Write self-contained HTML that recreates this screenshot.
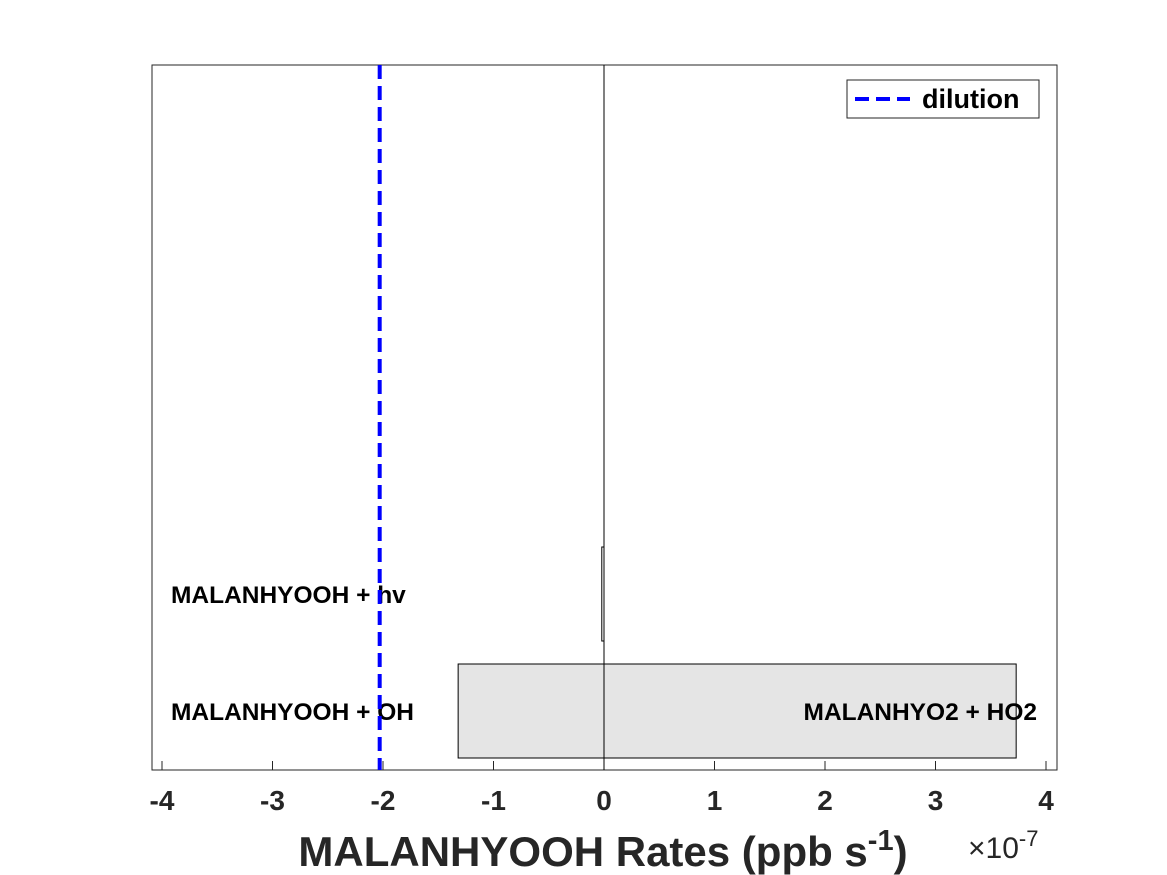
<!DOCTYPE html>
<html><head><meta charset="utf-8"><style>
body{margin:0;background:#fff;}
svg{display:block;font-family:"Liberation Sans",Arial,sans-serif;}
</style></head><body>
<svg width="1167" height="875">
<rect x="0" y="0" width="1167" height="875" fill="#fff"/>
<rect x="152" y="65" width="905" height="705" fill="#fff" stroke="#262626" stroke-width="1"/>
<g id="bars"></g>
<g id="ticks"></g>
<line id="zero" stroke="#000" stroke-width="1"/>
<line id="dil" stroke="#0000ff" stroke-width="4" stroke-dasharray="14,7"/>
<g>
<rect x="847" y="80" width="192" height="38" fill="#fff" stroke="#262626" stroke-width="1"/>
<line x1="855" y1="99" x2="910" y2="99" stroke="#0000ff" stroke-width="4" stroke-dasharray="14,7"/>
<text x="922" y="108" font-size="27" font-weight="bold" fill="#000">dilution</text>
</g>
<text x="603" y="866" text-anchor="middle" font-size="42" font-weight="bold" fill="#262626">MALANHYOOH Rates (ppb s<tspan dy="-16" font-size="29">-1</tspan><tspan dy="16">)</tspan></text>
<text x="968" y="858" font-size="30" fill="#262626">×10<tspan dy="-12" font-size="22">-7</tspan></text>
<script>
const categories=["MALANHYOOH + OH","MALANHYOOH + hv"];
const negValues=[-1.32,-0.02];
const posValues=[3.73,0];
const posLabels=["MALANHYO2 + HO2",""];
const xTicks=[-4,-3,-2,-1,0,1,2,3,4];
const dilution=-2.03;
const NS="http://www.w3.org/2000/svg";
const xs=v=>604+v*110.5;
const ys=k=>711-k*117;
const H=47;
const bars=document.getElementById('bars');
function mk(t,a,p){const e=document.createElementNS(NS,t);for(const k in a)e.setAttribute(k,a[k]);(p||bars).appendChild(e);return e;}
categories.forEach((c,i)=>{
 const cy=ys(i);
 const x0=xs(negValues[i]),x1=xs(posValues[i]);
 const r=mk('rect',{x:x0,y:cy-H,width:Math.max(x1-x0,1),height:2*H,fill:i==0?'#e5e5e5':'#fff',stroke:'#000','stroke-width':1});
 
 
 const t=mk('text',{x:171,y:cy+9,'font-size':24.5,'font-weight':'bold',fill:'#000'});
 t.textContent=c;
 
 
 if(posLabels[i]){
  const p=mk('text',{x:1037,y:cy+9,'font-size':24.5,'font-weight':'bold',fill:'#000','text-anchor':'end'});
  p.textContent=posLabels[i];
  
  
 }
});
const tg=document.getElementById('ticks');
xTicks.forEach(v=>{
 const x=xs(v);
 const l=mk('line',{x1:x,x2:x,y1:770,y2:761,stroke:'#262626','stroke-width':1},tg);
 
 
 const t=mk('text',{x:x,y:810,'font-size':28,'font-weight':'bold',fill:'#262626','text-anchor':'middle'},tg);
 t.textContent=String(v);
 
 
});
const z=document.getElementById('zero');
z.setAttribute('x1',xs(0));z.setAttribute('x2',xs(0));z.setAttribute('y1',65);z.setAttribute('y2',770);
const d=document.getElementById('dil');
d.setAttribute('x1',xs(dilution));d.setAttribute('x2',xs(dilution));d.setAttribute('y1',65);d.setAttribute('y2',770);
</script>
</svg>
</body></html>
